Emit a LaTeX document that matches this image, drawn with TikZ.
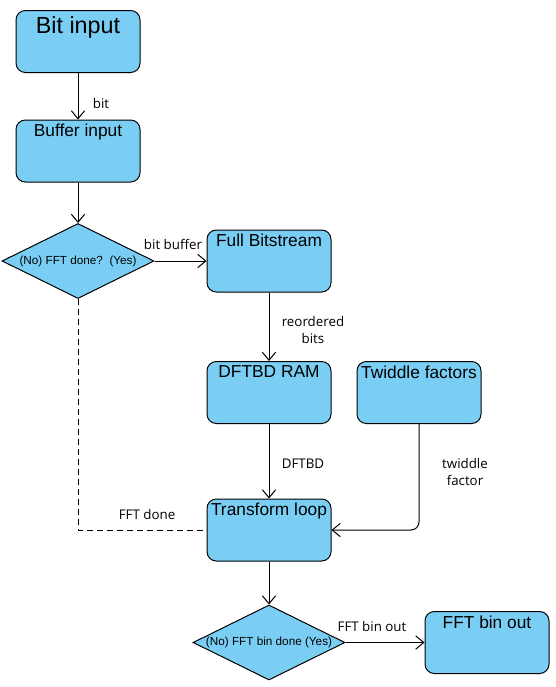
\documentclass[tikz,border=0pt]{standalone}
\usepackage{fontspec}
\setmainfont{Liberation Sans}
\newfontfamily\edgefont{Open Sans}
\usetikzlibrary{arrows.meta,shapes.geometric}
\definecolor{boxblue}{RGB}{122,206,244}
\begin{document}
\begin{tikzpicture}[x=0.75pt,y=-0.75pt,line width=0.75pt,
	box/.style={draw,fill=boxblue,rounded corners=7pt,minimum width=93pt,minimum height=46.5pt,inner sep=0pt},
	title/.style={anchor=north,inner sep=1pt,yshift=-2.3pt,font=\fontsize{13}{15}\selectfont},
	decision/.style={draw,fill=boxblue,diamond,minimum width=114pt,minimum height=56.25pt,inner sep=0pt},
	asks/.style={font=\fontsize{8.8}{10}\selectfont},
	lbl/.style={font=\edgefont\fontsize{10}{12.5}\selectfont,align=center,inner sep=0pt},
	flow/.style={-{Straight Barb[length=6pt,width=10pt]}}]
	\useasboundingbox (0,0) rectangle (556,687);
	% blocks
	\node[box] (bitin) at (78,41.5) {};
	\node[title,yshift=-1pt,font=\fontsize{17.5}{20}\selectfont] at (bitin.north) {Bit input};
	\node[box] (bufin) at (78,151) {};
	\node[title] at (bufin.north) {Buffer input};
	\node[decision] (fftq) at (78,261) {};
	\node[asks] at (fftq.center) {(No) FFT done?\ \ (Yes)};
	\node[box] (fullbs) at (269,261) {};
	\node[title] at (fullbs.north) {Full Bitstream};
	\node[box] (dftbd) at (269,392.5) {};
	\node[title] at (dftbd.north) {DFTBD RAM};
	\node[box] (twid) at (419,392.5) {};
	\node[title] at (twid.north) {Twiddle factors};
	\node[box] (tloop) at (269,530) {};
	\node[title] at (tloop.north) {Transform loop};
	\node[decision] (binq) at (269,642.5) {};
	\node[asks] at (binq.center) {(No) FFT bin done (Yes)};
	\node[box] (binout) at (487,642.5) {};
	\node[title] at (binout.north) {FFT bin out};
	% connectors
	\draw[flow] (bitin) -- (bufin);
	\node[lbl] at (101,103) {bit};
	\draw[flow] (bufin) -- (fftq);
	\draw[flow] (fftq) -- (fullbs);
	\node[lbl] at (173,244) {bit buffer};
	\draw[flow] (fullbs) -- (dftbd);
	\node[lbl] at (313,330) {reordered\\bits};
	\draw[flow] (dftbd) -- (tloop);
	\node[lbl] at (303,464) {DFTBD};
	\draw[flow,rounded corners=6pt] (twid.south) |- (tloop.east);
	\node[lbl] at (465,472) {twiddle\\factor};
	\draw[dashed,dash pattern=on 4.5pt off 3pt] (fftq.south) |- (tloop.west);
	\node[lbl] at (147,514) {FFT done};
	\draw[flow] (tloop) -- (binq);
	\draw[flow] (binq) -- (binout);
	\node[lbl] at (372,626) {FFT bin out};
\end{tikzpicture}
\end{document}
